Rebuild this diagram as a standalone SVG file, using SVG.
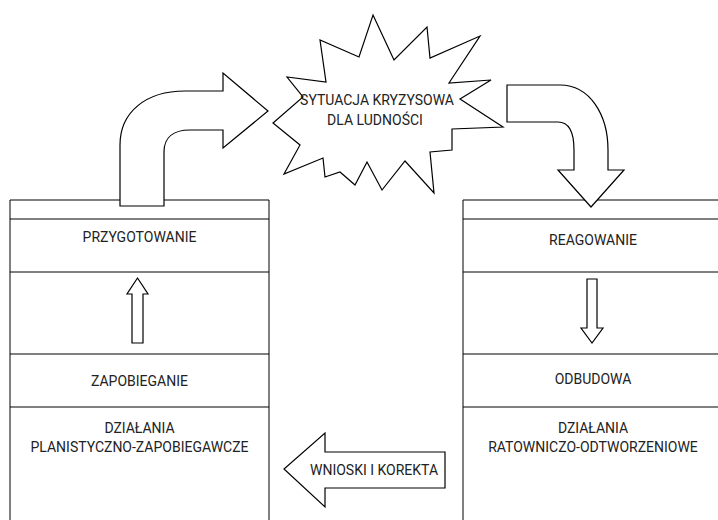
<svg xmlns="http://www.w3.org/2000/svg" width="718" height="520" viewBox="0 0 718 520">
<style>
.box{fill:#fff;stroke:#000;stroke-width:1}
.ln{stroke:#000;stroke-width:1;fill:none}
.shape{fill:#fff;stroke:#000;stroke-width:1.2;stroke-linejoin:miter}
text{font-family:Roboto,"Liberation Sans",sans-serif;font-size:14px;fill:#222;text-anchor:middle;dominant-baseline:central}
</style>
<rect width="718" height="520" fill="#fff"/>
<g id="left-column">
<path class="box" d="M10,522 L10,200 L269,200 L269,522"/>
<line class="ln" x1="10" y1="219" x2="269" y2="219"/>
<line class="ln" x1="10" y1="272" x2="269" y2="272"/>
<line class="ln" x1="10" y1="354" x2="269" y2="354"/>
<line class="ln" x1="10" y1="407" x2="269" y2="407"/>
<text x="139.5" y="237">PRZYGOTOWANIE</text>
<text x="139.5" y="381">ZAPOBIEGANIE</text>
<text x="139.5" y="428">DZIAŁANIA</text>
<text x="139.5" y="447">PLANISTYCZNO-ZAPOBIEGAWCZE</text>
</g>
<g id="right-column">
<path class="box" d="M463,522 L463,200 L723,200 L723,522"/>
<line class="ln" x1="463" y1="219" x2="723" y2="219"/>
<line class="ln" x1="463" y1="272" x2="723" y2="272"/>
<line class="ln" x1="463" y1="354" x2="723" y2="354"/>
<line class="ln" x1="463" y1="407" x2="723" y2="407"/>
<text x="593" y="240">REAGOWANIE</text>
<text x="593" y="379">ODBUDOWA</text>
<text x="593" y="428">DZIAŁANIA</text>
<text x="593" y="447">RATOWNICZO-ODTWORZENIOWE</text>
</g>
<g id="crisis">
<polygon class="shape" points="373,15 394,60 427,27 430,58 480,36 449,83 491,80 460,99 503,127 452,129 452,150 430,152 434,193 405,161 382,190 367,162 355,185 340,172 325,177 323,158 284,174 300,145 273,123 303,97 287,77 326,82 320,40 359,57"/>
<text x="377" y="100">SYTUACJA KRYZYSOWA</text>
<text x="375" y="120">DLA LUDNOŚCI</text>
</g>
<g id="connectors">
<path class="shape" d="M120,206 L120,145 C120,112 146,91 185,91 L223,91 L223,73 L268,111 L223,148 L223,130 L190,130 C173,130 164,138 164,152 L164,206 Z"/>
<path class="shape" d="M507,85 L560,85 C590,85 608,115 608,150 L608,170 L624,170 L591,207 L558,170 L574,170 L574,150 C574,133 570,122 558,122 L507,122 Z"/>
<polygon class="shape" points="132,343 132,294 127,294 137.5,278 148,294 143,294 143,343"/>
<polygon class="shape" points="587,279 597,279 597,328 603,328 592,343 581,328 587,328"/>
<g id="feedback">
<polygon class="shape" points="445,452 325,452 325,433 284,469 325,507 325,488 445,488"/>
<text x="374" y="470">WNIOSKI I KOREKTA</text>
</g>
</g>
</svg>
